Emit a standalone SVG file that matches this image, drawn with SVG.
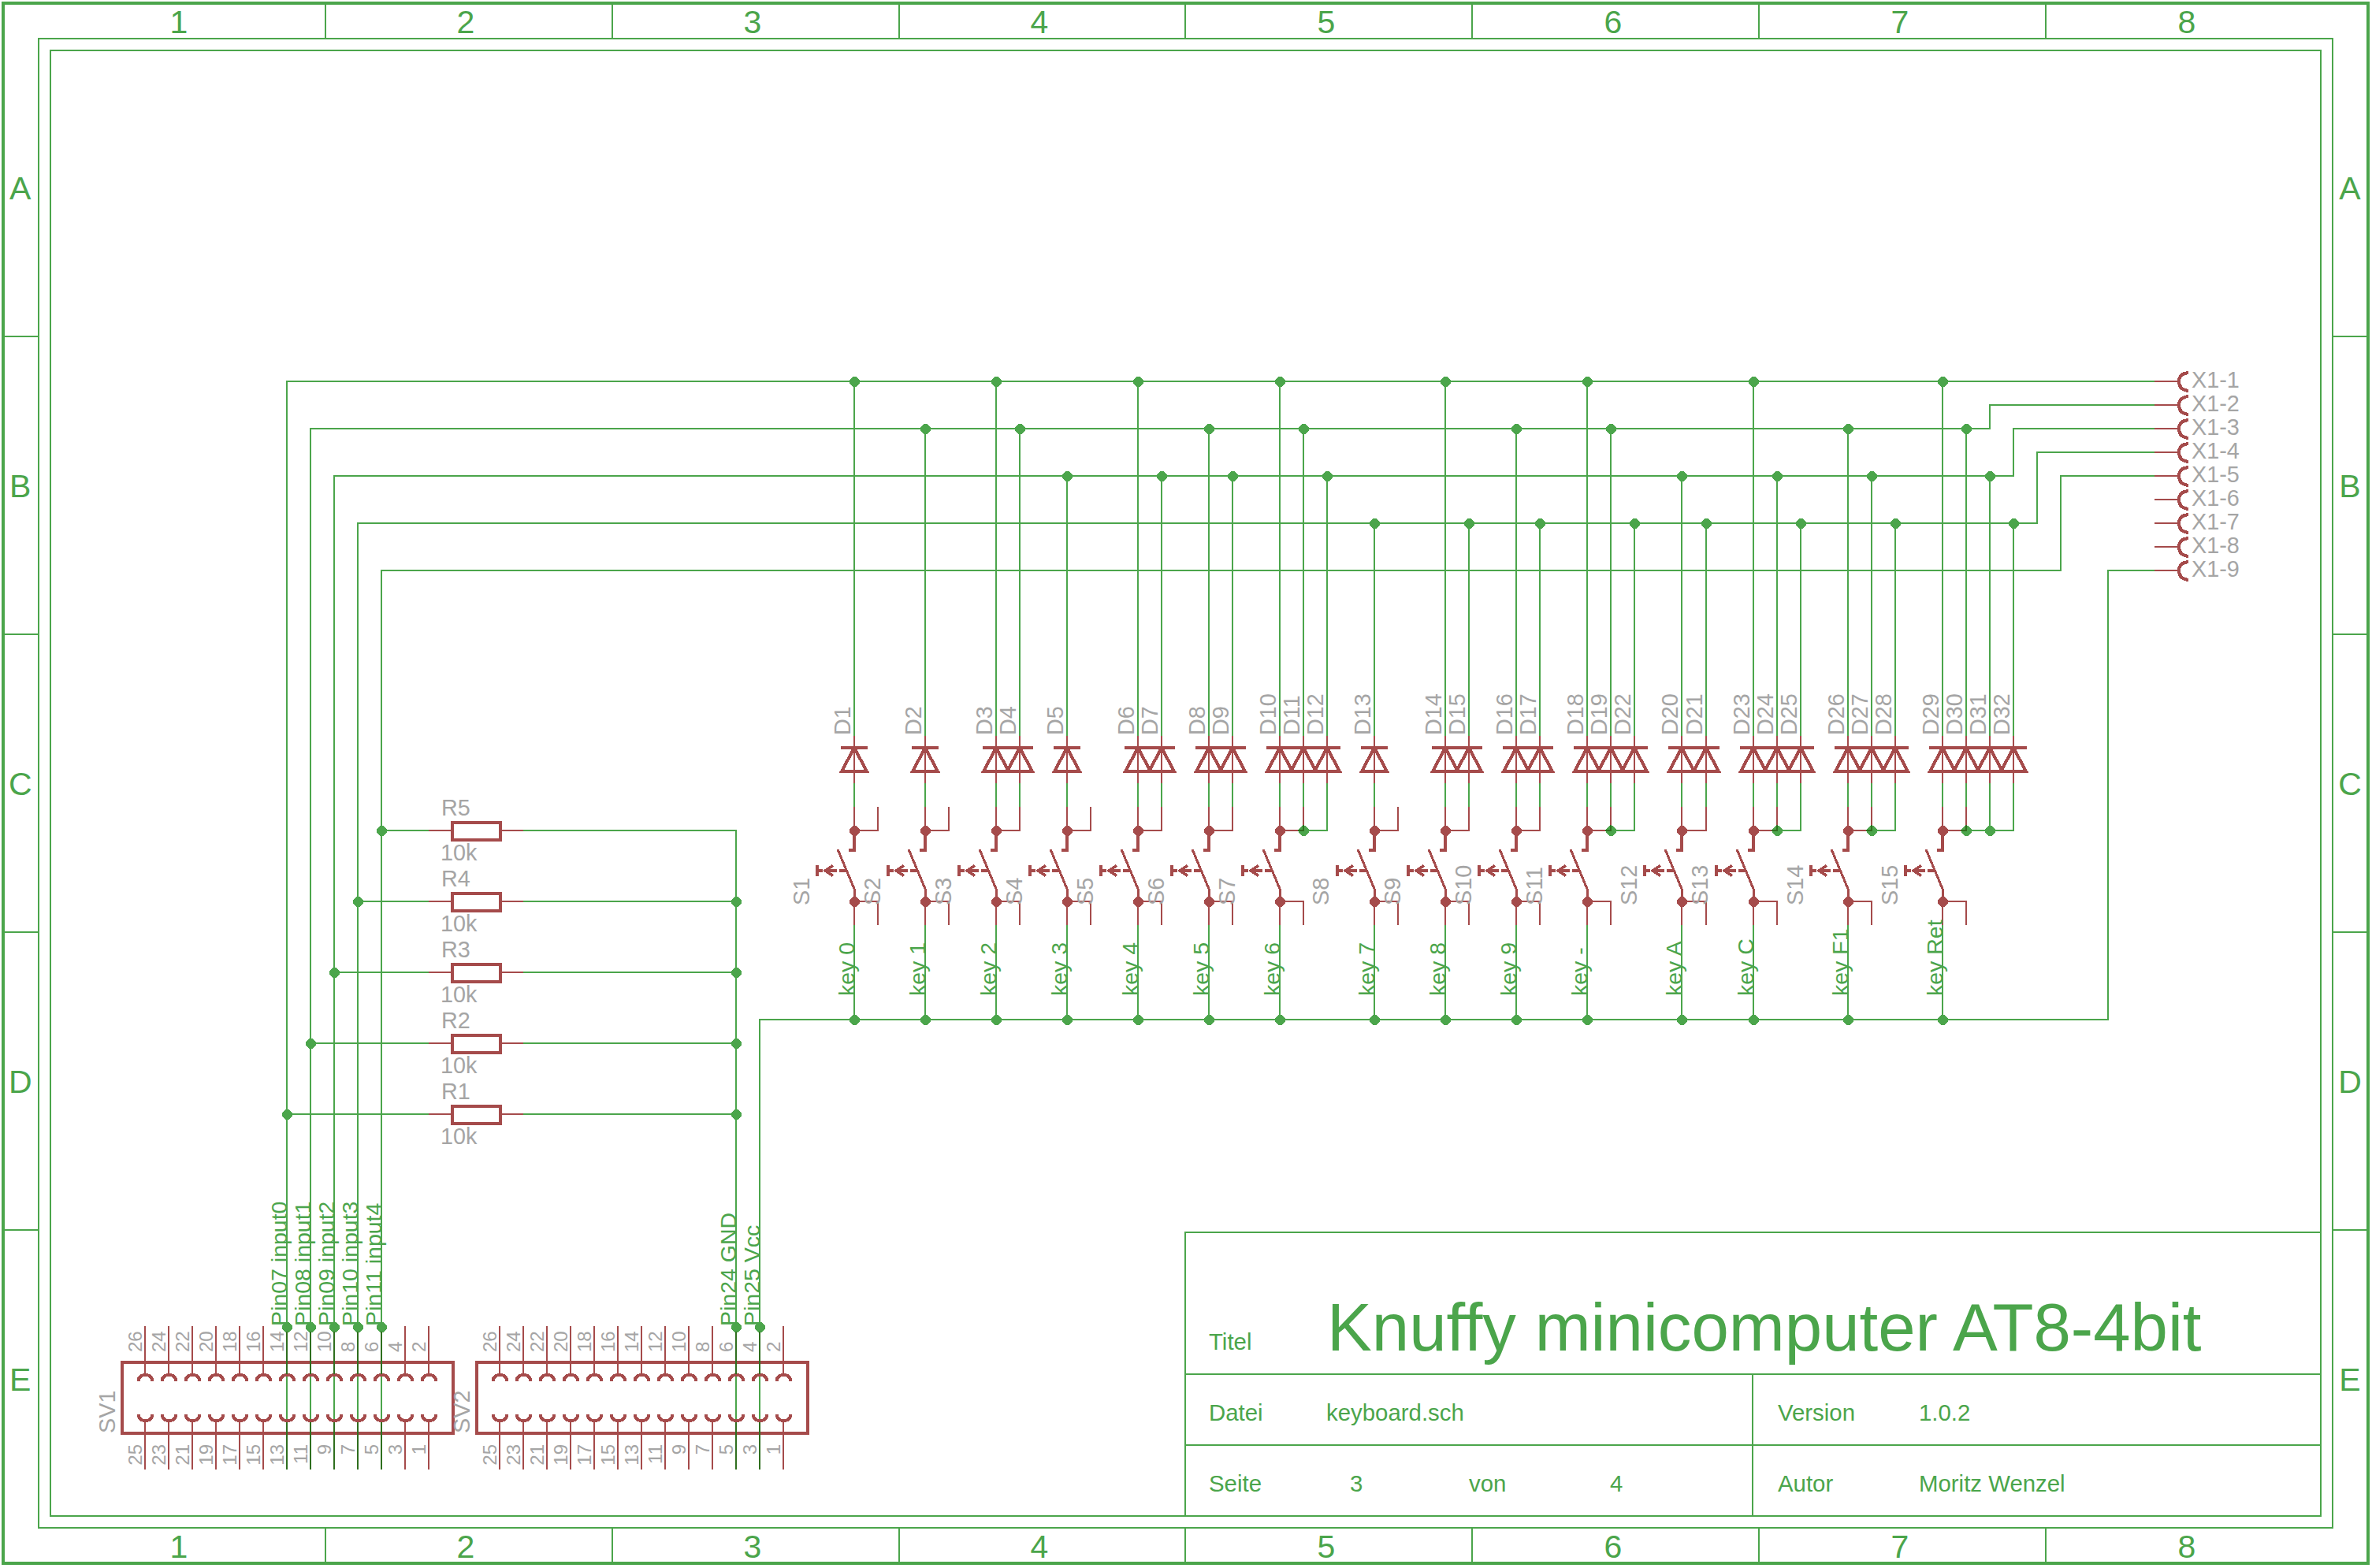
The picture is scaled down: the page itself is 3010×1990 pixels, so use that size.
<svg xmlns="http://www.w3.org/2000/svg" width="3010" height="1990" viewBox="0 0 3010 1990" shape-rendering="crispEdges">
<style>
text{font-family:"Liberation Sans",Arial,sans-serif}
.n{fill:none;stroke:#4ba54b;stroke-width:2;stroke-linejoin:miter}
.f{fill:none;stroke:#4ba54b;stroke-width:2}
.ov{fill:none;stroke:#2f6f1f;stroke-width:2}
.p{fill:none;stroke:#a54b4b;stroke-width:2}
.t{fill:none;stroke:#a54b4b;stroke-width:4}
.g{fill:#a5a5a5;font-size:28.8px}
.h{fill:#a5a5a5;font-size:24px}
.k{fill:#4ba54b;font-size:28.5px}
.m{fill:#4ba54b;font-size:41px;text-anchor:middle}
.b{fill:#4ba54b;font-size:29.4px}
</style>
<defs>
<polygon id="jg" fill="#4ba54b" points="-1.5,-6 2.5,-6 7,-1.5 7,2.5 2.5,7 -1.5,7 -6,2.5 -6,-1.5"/>
<polygon id="jr" fill="#a54b4b" points="-1.5,-6 2.5,-6 7,-1.5 7,2.5 2.5,7 -1.5,7 -6,2.5 -6,-1.5"/>
<g id="diode"><path class="p" d="M0 934V994"/><path class="t" d="M-17 949H17M0 949L-16 979H16Z"/></g>
<g id="swc"><path class="p" d="M0 1024V1054M0 1144V1174"/><path class="t" d="M0 1054V1079H-7"/><path class="t" style="stroke-width:3" d="M-21 1078L0 1128V1144"/><path class="t" style="stroke-width:3.5" d="M-47 1098V1112M-47 1105H-40M-37 1105H-22M-19 1105H-9M-27 1098.5L-37 1105L-27 1111.5"/><use href="#jr" y="1054"/><use href="#jr" y="1144"/></g>
<path id="br" class="p" d="M0 1054H30V1024M0 1144H30V1174"/>
<g id="sock"><path class="p" d="M0 1683V1744M0 1805V1865"/><path class="t" d="M-8.5 1753C-8 1747 -4 1745 .5 1745C5 1745 9 1747 9.5 1753M-8.5 1795C-8 1801 -4 1803 .5 1803C5 1803 9 1801 9.5 1795"/></g>
<g id="res"><path class="p" d="M544 0H574M634 0H664"/><rect class="t" x="574" y="-10.5" width="60.5" height="22"/></g>
<g id="xp"><path class="p" d="M2734 0H2764"/><path class="t" d="M2777 -11C2768 -10 2765 -5 2765 0C2765 6 2768 11 2777 12"/></g>
</defs>
<rect width="3010" height="1990" fill="#fff"/>
<g id="frame">
<rect class="f" style="stroke-width:4" x="4" y="4" width="3001" height="1980"/>
<rect class="f" x="49" y="49" width="2911" height="1890"/>
<rect class="f" x="64" y="64" width="2881" height="1860"/>
<path class="f" d="M413 4V49M777 4V49M1141 4V49M1504 4V49M1868 4V49M2232 4V49M2596 4V49M413 1939V1984M777 1939V1984M1141 1939V1984M1504 1939V1984M1868 1939V1984M2232 1939V1984M2596 1939V1984M4 427H49M4 805H49M4 1183H49M4 1561H49M2960 427H3005M2960 805H3005M2960 1183H3005M2960 1561H3005"/>
<text class="m" x="227" y="42">1</text><text class="m" x="591" y="42">2</text><text class="m" x="955" y="42">3</text><text class="m" x="1319" y="42">4</text><text class="m" x="1683" y="42">5</text><text class="m" x="2047" y="42">6</text><text class="m" x="2411" y="42">7</text><text class="m" x="2775" y="42">8</text>
<text class="m" x="227" y="1977">1</text><text class="m" x="591" y="1977">2</text><text class="m" x="955" y="1977">3</text><text class="m" x="1319" y="1977">4</text><text class="m" x="1683" y="1977">5</text><text class="m" x="2047" y="1977">6</text><text class="m" x="2411" y="1977">7</text><text class="m" x="2775" y="1977">8</text>
<text class="m" x="25.7" y="253">A</text><text class="m" x="25.7" y="631">B</text><text class="m" x="25.7" y="1009">C</text><text class="m" x="25.7" y="1387">D</text><text class="m" x="25.7" y="1765">E</text>
<text class="m" x="2982" y="253">A</text><text class="m" x="2982" y="631">B</text><text class="m" x="2982" y="1009">C</text><text class="m" x="2982" y="1387">D</text><text class="m" x="2982" y="1765">E</text>
</g>
<g id="titleblock">
<path class="f" d="M1504 1924V1564H2945M1504 1744H2945M1504 1834H2945M2224 1744V1924"/>
<text class="b" x="1534" y="1713">Titel</text>
<text fill="#4ba54b" font-size="85.2" x="1684" y="1714">Knuffy minicomputer AT8-4bit</text>
<text class="b" x="1534" y="1803">Datei</text><text class="b" x="1683" y="1803">keyboard.sch</text>
<text class="b" x="2256" y="1803">Version</text><text class="b" x="2435" y="1803">1.0.2</text>
<text class="b" x="1534" y="1893">Seite</text><text class="b" x="1713" y="1893">3</text><text class="b" x="1864" y="1893">von</text><text class="b" x="2043" y="1893">4</text>
<text class="b" x="2256" y="1893">Autor</text><text class="b" x="2435" y="1893">Moritz Wenzel</text>
</g>
<g id="connectors">
<path class="n" d="M364 1865V484H2734M394 1865V544H2525V514H2734M424 1865V604H2555V544H2734M454 1865V664H2585V574H2734M484 1865V724H2615V604H2734M964 1865V1294H2675V724H2734M934 1865V1054H664M664 1144H934M664 1234H934M664 1324H934M664 1414H934M484 1054H544M454 1144H544M424 1234H544M394 1324H544M364 1414H544"/>
<path class="n" d="M1084 484V934M1264 484V934M1444 484V934M1624 484V934M1834 484V934M2014 484V934M2225 484V934M2465 484V934M1174 544V934M1294 544V934M1534 544V934M1654 544V934M1924 544V934M2044 544V934M2345 544V934M2495 544V934M1354 604V934M1474 604V934M1564 604V934M1684 604V934M2134 604V934M2255 604V934M2375 604V934M2525 604V934M1744 664V934M1864 664V934M1954 664V934M2074 664V934M2165 664V934M2285 664V934M2405 664V934M2555 664V934"/>
<path class="n" d="M1084 994V1024M1174 994V1024M1264 994V1024M1294 994V1024M1354 994V1024M1444 994V1024M1474 994V1024M1534 994V1024M1564 994V1024M1624 994V1024M1654 994V1024M1744 994V1024M1834 994V1024M1864 994V1024M1924 994V1024M1954 994V1024M2014 994V1024M2044 994V1024M2134 994V1024M2165 994V1024M2225 994V1024M2255 994V1024M2345 994V1024M2375 994V1024M2465 994V1024M2495 994V1024M1684 994V1054H1654M2074 994V1054H2044M2285 994V1054H2255M2405 994V1054H2375M2525 994V1054H2495M2555 994V1054H2525"/>
<path class="n" d="M1084 1174V1294M1174 1174V1294M1264 1174V1294M1354 1174V1294M1444 1174V1294M1534 1174V1294M1624 1174V1294M1744 1174V1294M1834 1174V1294M1924 1174V1294M2014 1174V1294M2134 1174V1294M2225 1174V1294M2345 1174V1294M2465 1174V1294"/>
</g>
<g id="D1" transform="translate(1084)"><use href="#diode"/><text class="g" transform="translate(-5,933) rotate(-90)">D1</text></g>
<g id="D2" transform="translate(1174)"><use href="#diode"/><text class="g" transform="translate(-5,933) rotate(-90)">D2</text></g>
<g id="D3" transform="translate(1264)"><use href="#diode"/><text class="g" transform="translate(-5,933) rotate(-90)">D3</text></g>
<g id="D4" transform="translate(1294)"><use href="#diode"/><text class="g" transform="translate(-5,933) rotate(-90)">D4</text></g>
<g id="D5" transform="translate(1354)"><use href="#diode"/><text class="g" transform="translate(-5,933) rotate(-90)">D5</text></g>
<g id="D6" transform="translate(1444)"><use href="#diode"/><text class="g" transform="translate(-5,933) rotate(-90)">D6</text></g>
<g id="D7" transform="translate(1474)"><use href="#diode"/><text class="g" transform="translate(-5,933) rotate(-90)">D7</text></g>
<g id="D8" transform="translate(1534)"><use href="#diode"/><text class="g" transform="translate(-5,933) rotate(-90)">D8</text></g>
<g id="D9" transform="translate(1564)"><use href="#diode"/><text class="g" transform="translate(-5,933) rotate(-90)">D9</text></g>
<g id="D10" transform="translate(1624)"><use href="#diode"/><text class="g" transform="translate(-5,933) rotate(-90)">D10</text></g>
<g id="D11" transform="translate(1654)"><use href="#diode"/><text class="g" transform="translate(-5,933) rotate(-90)">D11</text></g>
<g id="D12" transform="translate(1684)"><use href="#diode"/><text class="g" transform="translate(-5,933) rotate(-90)">D12</text></g>
<g id="D13" transform="translate(1744)"><use href="#diode"/><text class="g" transform="translate(-5,933) rotate(-90)">D13</text></g>
<g id="D14" transform="translate(1834)"><use href="#diode"/><text class="g" transform="translate(-5,933) rotate(-90)">D14</text></g>
<g id="D15" transform="translate(1864)"><use href="#diode"/><text class="g" transform="translate(-5,933) rotate(-90)">D15</text></g>
<g id="D16" transform="translate(1924)"><use href="#diode"/><text class="g" transform="translate(-5,933) rotate(-90)">D16</text></g>
<g id="D17" transform="translate(1954)"><use href="#diode"/><text class="g" transform="translate(-5,933) rotate(-90)">D17</text></g>
<g id="D18" transform="translate(2014)"><use href="#diode"/><text class="g" transform="translate(-5,933) rotate(-90)">D18</text></g>
<g id="D19" transform="translate(2044)"><use href="#diode"/><text class="g" transform="translate(-5,933) rotate(-90)">D19</text></g>
<g id="D22" transform="translate(2074)"><use href="#diode"/><text class="g" transform="translate(-5,933) rotate(-90)">D22</text></g>
<g id="D20" transform="translate(2134)"><use href="#diode"/><text class="g" transform="translate(-5,933) rotate(-90)">D20</text></g>
<g id="D21" transform="translate(2165)"><use href="#diode"/><text class="g" transform="translate(-5,933) rotate(-90)">D21</text></g>
<g id="D23" transform="translate(2225)"><use href="#diode"/><text class="g" transform="translate(-5,933) rotate(-90)">D23</text></g>
<g id="D24" transform="translate(2255)"><use href="#diode"/><text class="g" transform="translate(-5,933) rotate(-90)">D24</text></g>
<g id="D25" transform="translate(2285)"><use href="#diode"/><text class="g" transform="translate(-5,933) rotate(-90)">D25</text></g>
<g id="D26" transform="translate(2345)"><use href="#diode"/><text class="g" transform="translate(-5,933) rotate(-90)">D26</text></g>
<g id="D27" transform="translate(2375)"><use href="#diode"/><text class="g" transform="translate(-5,933) rotate(-90)">D27</text></g>
<g id="D28" transform="translate(2405)"><use href="#diode"/><text class="g" transform="translate(-5,933) rotate(-90)">D28</text></g>
<g id="D29" transform="translate(2465)"><use href="#diode"/><text class="g" transform="translate(-5,933) rotate(-90)">D29</text></g>
<g id="D30" transform="translate(2495)"><use href="#diode"/><text class="g" transform="translate(-5,933) rotate(-90)">D30</text></g>
<g id="D31" transform="translate(2525)"><use href="#diode"/><text class="g" transform="translate(-5,933) rotate(-90)">D31</text></g>
<g id="D32" transform="translate(2555)"><use href="#diode"/><text class="g" transform="translate(-5,933) rotate(-90)">D32</text></g>
<g id="S1" transform="translate(1084)"><use href="#swc"/><use href="#br"/><text class="g" transform="translate(-57,1149) rotate(-90)">S1</text><text class="k" transform="translate(0,1264) rotate(-90)">key 0</text></g>
<g id="S2" transform="translate(1174)"><use href="#swc"/><use href="#br"/><text class="g" transform="translate(-57,1149) rotate(-90)">S2</text><text class="k" transform="translate(0,1264) rotate(-90)">key 1</text></g>
<g id="S3" transform="translate(1264)"><use href="#swc"/><use href="#br"/><text class="g" transform="translate(-57,1149) rotate(-90)">S3</text><text class="k" transform="translate(0,1264) rotate(-90)">key 2</text></g>
<g id="S4" transform="translate(1354)"><use href="#swc"/><use href="#br"/><text class="g" transform="translate(-57,1149) rotate(-90)">S4</text><text class="k" transform="translate(0,1264) rotate(-90)">key 3</text></g>
<g id="S5" transform="translate(1444)"><use href="#swc"/><use href="#br"/><text class="g" transform="translate(-57,1149) rotate(-90)">S5</text><text class="k" transform="translate(0,1264) rotate(-90)">key 4</text></g>
<g id="S6" transform="translate(1534)"><use href="#swc"/><use href="#br"/><text class="g" transform="translate(-57,1149) rotate(-90)">S6</text><text class="k" transform="translate(0,1264) rotate(-90)">key 5</text></g>
<g id="S7" transform="translate(1624)"><use href="#swc"/><use href="#br"/><text class="g" transform="translate(-57,1149) rotate(-90)">S7</text><text class="k" transform="translate(0,1264) rotate(-90)">key 6</text></g>
<g id="S8" transform="translate(1744)"><use href="#swc"/><use href="#br"/><text class="g" transform="translate(-58,1149) rotate(-90)">S8</text><text class="k" transform="translate(0,1264) rotate(-90)">key 7</text></g>
<g id="S9" transform="translate(1834)"><use href="#swc"/><use href="#br"/><text class="g" transform="translate(-57,1149) rotate(-90)">S9</text><text class="k" transform="translate(0,1264) rotate(-90)">key 8</text></g>
<g id="S10" transform="translate(1924)"><use href="#swc"/><use href="#br"/><text class="g" transform="translate(-57,1149) rotate(-90)">S10</text><text class="k" transform="translate(0,1264) rotate(-90)">key 9</text></g>
<g id="S11" transform="translate(2014)"><use href="#swc"/><use href="#br"/><text class="g" transform="translate(-57,1149) rotate(-90)">S11</text><text class="k" transform="translate(0,1264) rotate(-90)">key -</text></g>
<g id="S12" transform="translate(2134)"><use href="#swc"/><path class="p" d="M0 1054H31V1024M0 1144H31V1174"/><text class="g" transform="translate(-57,1149) rotate(-90)">S12</text><text class="k" transform="translate(0,1264) rotate(-90)">key A</text></g>
<g id="S13" transform="translate(2225)"><use href="#swc"/><use href="#br"/><text class="g" transform="translate(-58,1149) rotate(-90)">S13</text><text class="k" transform="translate(0,1264) rotate(-90)">key C</text></g>
<g id="S14" transform="translate(2345)"><use href="#swc"/><use href="#br"/><text class="g" transform="translate(-57,1149) rotate(-90)">S14</text><text class="k" transform="translate(0,1264) rotate(-90)">key F1</text></g>
<g id="S15" transform="translate(2465)"><use href="#swc"/><use href="#br"/><text class="g" transform="translate(-57,1149) rotate(-90)">S15</text><text class="k" transform="translate(0,1264) rotate(-90)">key Ret</text></g>
<g id="R5" transform="translate(0,1054)"><use href="#res"/><text class="g" x="560" y="-19">R5</text><text class="g" x="559" y="38">10k</text></g>
<g id="R4" transform="translate(0,1144)"><use href="#res"/><text class="g" x="560" y="-19">R4</text><text class="g" x="559" y="38">10k</text></g>
<g id="R3" transform="translate(0,1234)"><use href="#res"/><text class="g" x="560" y="-19">R3</text><text class="g" x="559" y="38">10k</text></g>
<g id="R2" transform="translate(0,1324)"><use href="#res"/><text class="g" x="560" y="-19">R2</text><text class="g" x="559" y="38">10k</text></g>
<g id="R1" transform="translate(0,1414)"><use href="#res"/><text class="g" x="560" y="-19">R1</text><text class="g" x="559" y="38">10k</text></g>
<g id="X1">
<use href="#xp" y="484"/><use href="#xp" y="514"/><use href="#xp" y="544"/><use href="#xp" y="574"/><use href="#xp" y="604"/><use href="#xp" y="634"/><use href="#xp" y="664"/><use href="#xp" y="694"/><use href="#xp" y="724"/>
<text class="g" x="2781" y="492">X1-1</text><text class="g" x="2781" y="522">X1-2</text><text class="g" x="2781" y="552">X1-3</text><text class="g" x="2781" y="582">X1-4</text><text class="g" x="2781" y="612">X1-5</text><text class="g" x="2781" y="642">X1-6</text><text class="g" x="2781" y="672">X1-7</text><text class="g" x="2781" y="702">X1-8</text><text class="g" x="2781" y="732">X1-9</text>
</g>
<g id="SV1">
<rect class="t" style="stroke-width:4.5" x="155" y="1729" width="420" height="90"/>
<use href="#sock" x="184"/><use href="#sock" x="214"/><use href="#sock" x="244"/><use href="#sock" x="274"/><use href="#sock" x="304"/><use href="#sock" x="334"/><use href="#sock" x="364"/><use href="#sock" x="394"/><use href="#sock" x="424"/><use href="#sock" x="454"/><use href="#sock" x="484"/><use href="#sock" x="514"/><use href="#sock" x="544"/>
<text class="g" transform="translate(146,1819) rotate(-90)">SV1</text>
<g class="h">
<text transform="translate(180,1716) rotate(-90)">26</text><text transform="translate(210,1716) rotate(-90)">24</text><text transform="translate(240,1716) rotate(-90)">22</text><text transform="translate(270,1716) rotate(-90)">20</text><text transform="translate(300,1716) rotate(-90)">18</text><text transform="translate(330,1716) rotate(-90)">16</text><text transform="translate(360,1716) rotate(-90)">14</text><text transform="translate(390,1716) rotate(-90)">12</text><text transform="translate(420,1716) rotate(-90)">10</text><text transform="translate(450,1716) rotate(-90)">8</text><text transform="translate(480,1716) rotate(-90)">6</text><text transform="translate(510,1716) rotate(-90)">4</text><text transform="translate(540,1716) rotate(-90)">2</text>
<g text-anchor="end"><text transform="translate(180,1833) rotate(-90)">25</text><text transform="translate(210,1833) rotate(-90)">23</text><text transform="translate(240,1833) rotate(-90)">21</text><text transform="translate(270,1833) rotate(-90)">19</text><text transform="translate(300,1833) rotate(-90)">17</text><text transform="translate(330,1833) rotate(-90)">15</text><text transform="translate(360,1833) rotate(-90)">13</text><text transform="translate(390,1833) rotate(-90)">11</text><text transform="translate(420,1833) rotate(-90)">9</text><text transform="translate(450,1833) rotate(-90)">7</text><text transform="translate(480,1833) rotate(-90)">5</text><text transform="translate(510,1833) rotate(-90)">3</text><text transform="translate(540,1833) rotate(-90)">1</text></g>
</g>
</g>
<g id="SV2">
<rect class="t" style="stroke-width:4.5" x="605" y="1729" width="420" height="90"/>
<use href="#sock" x="634"/><use href="#sock" x="664"/><use href="#sock" x="694"/><use href="#sock" x="724"/><use href="#sock" x="754"/><use href="#sock" x="784"/><use href="#sock" x="814"/><use href="#sock" x="844"/><use href="#sock" x="874"/><use href="#sock" x="904"/><use href="#sock" x="934"/><use href="#sock" x="964"/><use href="#sock" x="994"/>
<text class="g" transform="translate(595.5,1819) rotate(-90)">SV2</text>
<g class="h">
<text transform="translate(630,1716) rotate(-90)">26</text><text transform="translate(660,1716) rotate(-90)">24</text><text transform="translate(690,1716) rotate(-90)">22</text><text transform="translate(720,1716) rotate(-90)">20</text><text transform="translate(750,1716) rotate(-90)">18</text><text transform="translate(780,1716) rotate(-90)">16</text><text transform="translate(810,1716) rotate(-90)">14</text><text transform="translate(840,1716) rotate(-90)">12</text><text transform="translate(870,1716) rotate(-90)">10</text><text transform="translate(900,1716) rotate(-90)">8</text><text transform="translate(930,1716) rotate(-90)">6</text><text transform="translate(960,1716) rotate(-90)">4</text><text transform="translate(990,1716) rotate(-90)">2</text>
<g text-anchor="end"><text transform="translate(630,1833) rotate(-90)">25</text><text transform="translate(660,1833) rotate(-90)">23</text><text transform="translate(690,1833) rotate(-90)">21</text><text transform="translate(720,1833) rotate(-90)">19</text><text transform="translate(750,1833) rotate(-90)">17</text><text transform="translate(780,1833) rotate(-90)">15</text><text transform="translate(810,1833) rotate(-90)">13</text><text transform="translate(840,1833) rotate(-90)">11</text><text transform="translate(870,1833) rotate(-90)">9</text><text transform="translate(900,1833) rotate(-90)">7</text><text transform="translate(930,1833) rotate(-90)">5</text><text transform="translate(960,1833) rotate(-90)">3</text><text transform="translate(990,1833) rotate(-90)">1</text></g>
</g>
</g>
<g id="net-labels">
<text class="k" transform="translate(364,1683) rotate(-90)">Pin07 input0</text>
<text class="k" transform="translate(394,1683) rotate(-90)">Pin08 input1</text>
<text class="k" transform="translate(424,1683) rotate(-90)">Pin09 input2</text>
<text class="k" transform="translate(454,1683) rotate(-90)">Pin10 input3</text>
<text class="k" transform="translate(484,1683) rotate(-90)">Pin11 input4</text>
<text class="k" transform="translate(934,1683) rotate(-90)">Pin24 GND</text>
<text class="k" transform="translate(964,1683) rotate(-90)">Pin25 Vcc</text>
</g>
<g id="junctions">
<use href="#jg" x="1084" y="484"/><use href="#jg" x="1264" y="484"/><use href="#jg" x="1444" y="484"/><use href="#jg" x="1624" y="484"/><use href="#jg" x="1834" y="484"/><use href="#jg" x="2014" y="484"/><use href="#jg" x="2225" y="484"/><use href="#jg" x="2465" y="484"/>
<use href="#jg" x="1174" y="544"/><use href="#jg" x="1294" y="544"/><use href="#jg" x="1534" y="544"/><use href="#jg" x="1654" y="544"/><use href="#jg" x="1924" y="544"/><use href="#jg" x="2044" y="544"/><use href="#jg" x="2345" y="544"/><use href="#jg" x="2495" y="544"/>
<use href="#jg" x="1354" y="604"/><use href="#jg" x="1474" y="604"/><use href="#jg" x="1564" y="604"/><use href="#jg" x="1684" y="604"/><use href="#jg" x="2134" y="604"/><use href="#jg" x="2255" y="604"/><use href="#jg" x="2375" y="604"/><use href="#jg" x="2525" y="604"/>
<use href="#jg" x="1744" y="664"/><use href="#jg" x="1864" y="664"/><use href="#jg" x="1954" y="664"/><use href="#jg" x="2074" y="664"/><use href="#jg" x="2165" y="664"/><use href="#jg" x="2285" y="664"/><use href="#jg" x="2405" y="664"/><use href="#jg" x="2555" y="664"/>
<use href="#jg" x="1084" y="1294"/><use href="#jg" x="1174" y="1294"/><use href="#jg" x="1264" y="1294"/><use href="#jg" x="1354" y="1294"/><use href="#jg" x="1444" y="1294"/><use href="#jg" x="1534" y="1294"/><use href="#jg" x="1624" y="1294"/><use href="#jg" x="1744" y="1294"/><use href="#jg" x="1834" y="1294"/><use href="#jg" x="1924" y="1294"/><use href="#jg" x="2014" y="1294"/><use href="#jg" x="2134" y="1294"/><use href="#jg" x="2225" y="1294"/><use href="#jg" x="2345" y="1294"/><use href="#jg" x="2465" y="1294"/>
<use href="#jg" x="484" y="1054"/><use href="#jg" x="454" y="1144"/><use href="#jg" x="424" y="1234"/><use href="#jg" x="394" y="1324"/><use href="#jg" x="364" y="1414"/>
<use href="#jg" x="934" y="1144"/><use href="#jg" x="934" y="1234"/><use href="#jg" x="934" y="1324"/><use href="#jg" x="934" y="1414"/>
<use href="#jg" x="364" y="1684"/><use href="#jg" x="394" y="1684"/><use href="#jg" x="424" y="1684"/><use href="#jg" x="454" y="1684"/><use href="#jg" x="484" y="1684"/><use href="#jg" x="934" y="1684"/><use href="#jg" x="964" y="1684"/>
<use href="#jg" x="1654" y="1054"/><use href="#jg" x="2044" y="1054"/><use href="#jg" x="2255" y="1054"/><use href="#jg" x="2375" y="1054"/><use href="#jg" x="2495" y="1054"/><use href="#jg" x="2525" y="1054"/>
<path class="ov" d="M1654 1047V1054H1647M2044 1047V1054H2037M2255 1047V1054H2248M2375 1047V1054H2368M2495 1047V1054H2488"/>
<path class="ov" d="M364 1690V1744M364 1805V1865M394 1690V1744M394 1805V1865M424 1690V1744M424 1805V1865M454 1690V1744M454 1805V1865M484 1690V1744M484 1805V1865M934 1690V1744M934 1805V1865M964 1690V1744M964 1805V1865"/>
</g>
</svg>
